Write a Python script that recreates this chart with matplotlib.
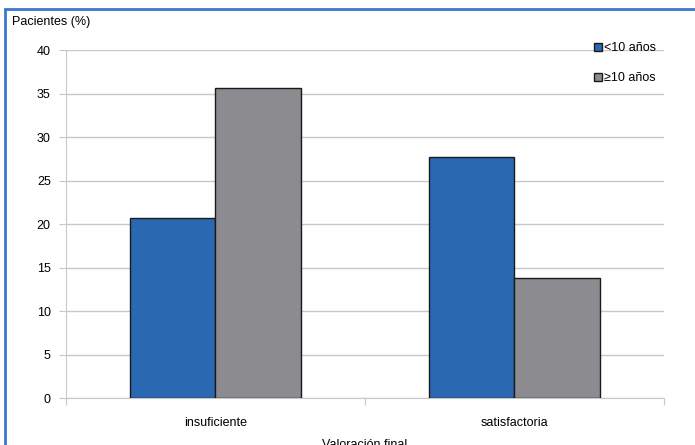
import matplotlib.pyplot as plt
from matplotlib.patches import Rectangle
import numpy as np

plt.rcParams['font.family'] = ['Liberation Sans', 'DejaVu Sans']

categorias = ['insuficiente', 'satisfactoria']
menores_10 = [20.7, 27.7]
mayores_10 = [35.6, 13.8]
series = ['<10 años', '≥10 años']
yticks = [0, 5, 10, 15, 20, 25, 30, 35, 40]

fig = plt.figure(figsize=(6.95, 4.45), dpi=100)
ax = fig.add_axes([0.095, 0.1056, 0.86, 0.782])

x = np.arange(len(categorias))
w = 0.286
ax.bar(x - w / 2, menores_10, w, color='#2A68B1', edgecolor='#1a1a1a', linewidth=1, label=series[0], zorder=3)
ax.bar(x + w / 2, mayores_10, w, color='#8C8C90', edgecolor='#1a1a1a', linewidth=1, label=series[1], zorder=3)

ax.set_xlim(-0.5, 1.5)
ax.set_ylim(0, 40)
ax.set_yticks(yticks)
ax.yaxis.grid(True, color='#c8c8c8', linewidth=1)
ax.set_axisbelow(True)

# category labels in the middle, tick marks on the boundaries
ax.set_xticks([-0.5, 0.5, 1.5])
ax.set_xticklabels([])
ax.set_xticks(x, minor=True)
ax.set_xticklabels(categorias, minor=True)
ax.tick_params(axis='x', which='minor', length=0, pad=14, labelsize=9)
ax.tick_params(axis='x', which='major', length=5, color='#c8c8c8')
ax.tick_params(axis='y', length=5, color='#c8c8c8', labelsize=9, pad=6)

for s in ['top', 'right']:
    ax.spines[s].set_visible(False)
ax.spines['left'].set_color('#c8c8c8')
ax.spines['bottom'].set_color('#c8c8c8')

ax.set_xlabel('Valoración final', fontsize=9, labelpad=7)
fig.text(12 / 695, 1 - 22 / 445, 'Pacientes (%)', fontsize=9, va='center', ha='left')

leg = ax.legend(loc='upper left', bbox_to_anchor=(0.865, 1.055), frameon=False, fontsize=9,
                handlelength=0.6, handleheight=0.6, handletextpad=0.2, labelspacing=1.45)

# blue frame around the chart
fig.patches.append(Rectangle((5 / 695, -0.1), 1.2, 1 - 9 / 445 + 0.1, transform=fig.transFigure,
                             fill=False, edgecolor='#3A78C8', linewidth=2))

fig.savefig('out.png', dpi=100)
